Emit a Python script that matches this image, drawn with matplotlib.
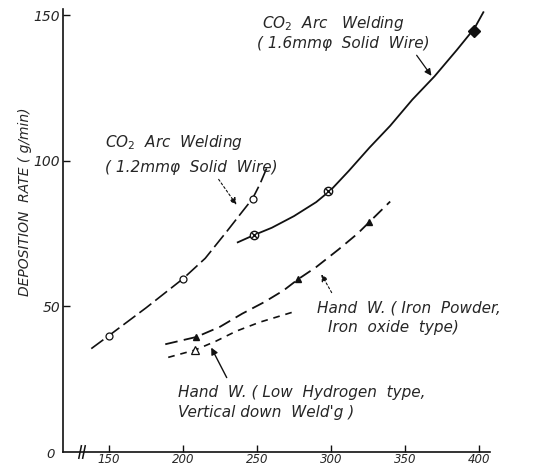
import matplotlib
matplotlib.use("Agg")
import matplotlib.pyplot as plt

# curves (welding current A vs deposition g/min)
co2_12_x = [138, 150, 175, 200, 215, 230, 240, 247, 252, 257]
co2_12_y = [35.5, 40, 49.5, 59.5, 66.5, 76, 82.5, 87, 92, 98]
co2_12_pts_x = [150, 200, 247]
co2_12_pts_y = [40, 59.5, 87]

co2_16_x = [237, 248, 260, 275, 290, 300, 312, 326, 340, 355, 370, 385, 397, 403]
co2_16_y = [72, 74.5, 77, 81, 85.8, 90, 96.5, 104.5, 112, 121, 129, 138, 145.5, 151]
co2_16_pts_x = [248, 298]
co2_16_pts_y = [74.5, 89.5]
co2_16_sq_x = [397]
co2_16_sq_y = [144.5]

iron_x = [188, 209, 225, 240, 255, 268, 278, 290, 305, 318, 326, 340]
iron_y = [37, 39.5, 43, 47.5, 51.5, 55.5, 59.4, 63.5, 69.5, 75, 79, 86]
iron_pts_x = [209, 278, 326]
iron_pts_y = [39.5, 59.4, 79]

lowh_x = [190, 208, 222, 236, 252, 274]
lowh_y = [32.5, 35, 38, 41.5, 44.6, 48]
lowh_pts_x = [208]
lowh_pts_y = [35]

xticks = [150, 200, 250, 300, 350, 400]
yticks = [50, 100, 150]

ink = "#111111"
txt = "#262626"
hand = dict(family="DejaVu Sans", style="italic", color=txt)

fig = plt.figure(figsize=(5.41, 4.66), dpi=100)
ax = fig.add_axes([0.1165, 0.030, 0.789, 0.950])
ax.set_xlim(118.9, 407.4)
ax.set_ylim(0, 152)

ax.plot(co2_12_x, co2_12_y, color=ink, lw=1.2, dashes=(9, 3))
ax.plot(co2_12_pts_x, co2_12_pts_y, "o", ms=5, mfc="white", mec=ink, mew=0.9)

ax.plot(co2_16_x, co2_16_y, color=ink, lw=1.3)
ax.plot(co2_16_pts_x, co2_16_pts_y, "o", ms=6, mfc="white", mec=ink, mew=1.0)
ax.plot(co2_16_pts_x, co2_16_pts_y, "x", ms=4, mec=ink, mew=1.0)
ax.plot(co2_16_sq_x, co2_16_sq_y, "D", ms=6, mfc=ink, mec=ink)

ax.plot(iron_x, iron_y, color=ink, lw=1.3, dashes=(7, 3.5))
ax.plot(iron_pts_x, iron_pts_y, "^", ms=5, mfc=ink, mec=ink)

ax.plot(lowh_x, lowh_y, color=ink, lw=1.2, dashes=(4, 3.5))
ax.plot(lowh_pts_x, lowh_pts_y, "^", ms=6, mfc="white", mec=ink, mew=0.9)

# annotations
fs = 11
ax.text(147.3, 106.4, "CO$_2$  Arc  Welding", fontsize=fs, va="center", **hand)
ax.text(147.3, 97.8, "( 1.2mm\u03c6  Solid  Wire)", fontsize=fs, va="center", **hand)
ax.annotate("", xy=(237.2, 84.1), xytext=(223, 94.4),
            arrowprops=dict(arrowstyle="-|>", color=ink, lw=0.8, ls=(0, (2, 2))))

ax.text(253.4, 147.3, "CO$_2$  Arc   Welding", fontsize=fs, va="center", **hand)
ax.text(250.0, 140.4, "( 1.6mm\u03c6  Solid  Wire)", fontsize=fs, va="center", **hand)
ax.annotate("", xy=(369, 128.4), xytext=(356.8, 137),
            arrowprops=dict(arrowstyle="-|>", color=ink, lw=0.9))

ax.text(290.5, 49.4, "Hand  W. ( Iron  Powder,", fontsize=fs, va="center", **hand)
ax.text(298.0, 42.6, "Iron  oxide  type)", fontsize=fs, va="center", **hand)
ax.annotate("", xy=(292.6, 61.8), xytext=(301.4, 53.9),
            arrowprops=dict(arrowstyle="-|>", color=ink, lw=0.8, ls=(0, (2, 2))))

ax.text(196.6, 20.3, "Hand  W. ( Low  Hydrogen  type,", fontsize=fs, va="center", **hand)
ax.text(196.6, 13.4, "Vertical down  Weld'g )", fontsize=fs, va="center", **hand)
ax.annotate("", xy=(218.2, 36.7), xytext=(230.4, 24.7),
            arrowprops=dict(arrowstyle="-|>", color=ink, lw=1.0))

# axes styling
for s in ["top", "right"]:
    ax.spines[s].set_visible(False)
for s in ["left", "bottom"]:
    ax.spines[s].set_color(ink)
    ax.spines[s].set_linewidth(1.2)

ax.set_xticks(xticks)
ax.set_xticklabels([str(v) for v in xticks], fontsize=8.5, **hand)
ax.set_yticks(yticks)
ax.set_yticklabels([str(v) for v in yticks], fontsize=10, **hand)
ax.tick_params(direction="in", length=5, width=1.0, color=ink, pad=2)
ax.tick_params(axis="x", pad=0.5)

# axis break marks and origin label
for xa in (0.040, 0.049):
    ax.plot([xa - 0.003, xa + 0.003], [-0.014, 0.014], transform=ax.transAxes,
            color=ink, lw=1.1, clip_on=False)
ax.text(-0.02, -0.006, "0", transform=ax.transAxes, fontsize=9.5,
        ha="right", va="center", **hand)

fig.text(25 / 541, 1 - 202 / 466, "DEPOSITION  RATE ( g/min)", rotation=90,
         fontsize=10, ha="center", va="center", **hand)

fig.savefig("out.png", dpi=100, facecolor="white")
